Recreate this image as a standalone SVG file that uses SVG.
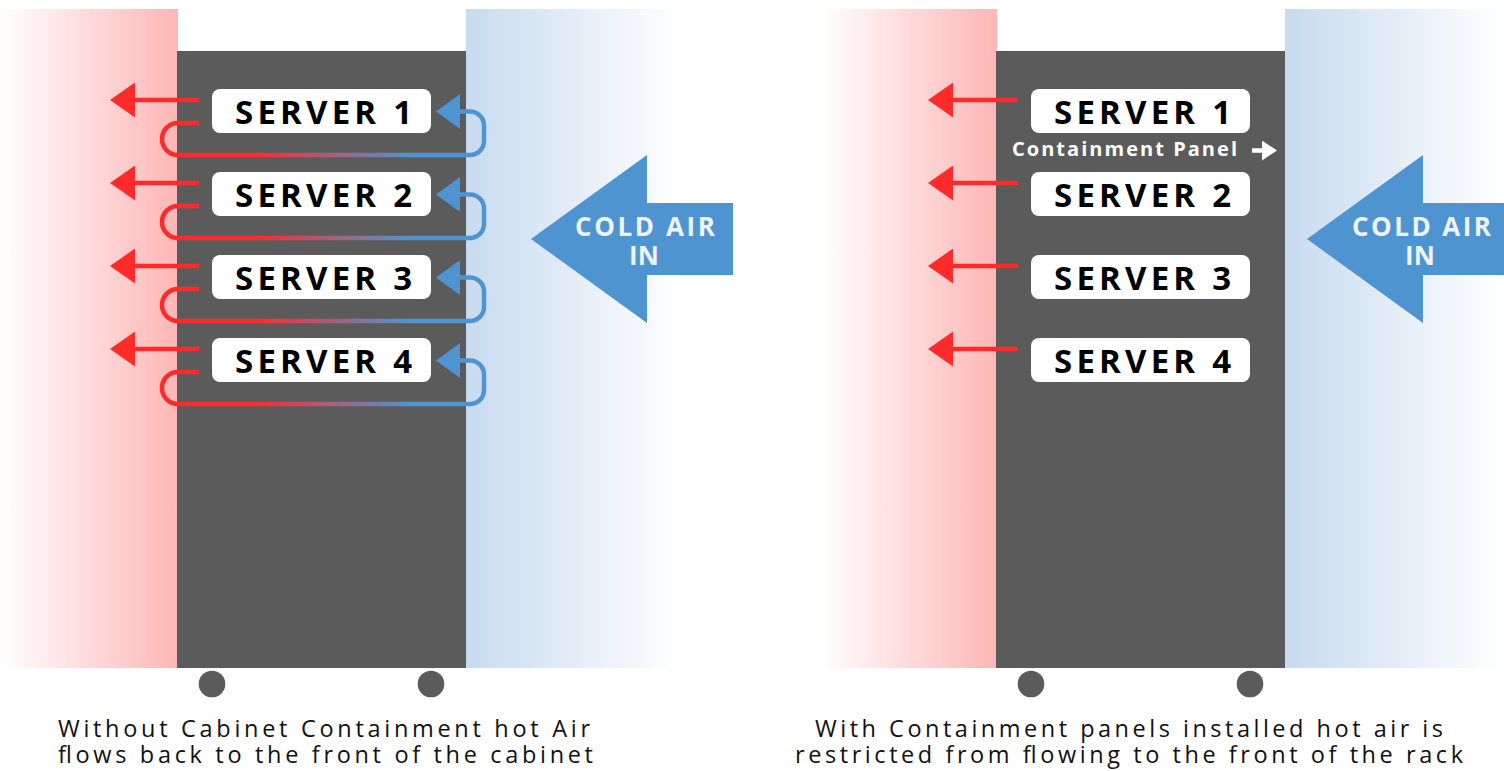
<svg xmlns="http://www.w3.org/2000/svg" width="1504" height="771" viewBox="0 0 1504 771">
<defs>
<linearGradient id="pinkL" x1="0" y1="0" x2="1" y2="0"><stop offset="0" stop-color="#ffffff"/><stop offset="1" stop-color="#ffb6b6"/></linearGradient>
<linearGradient id="blueR" x1="0" y1="0" x2="1" y2="0"><stop offset="0" stop-color="#c7dbef"/><stop offset="1" stop-color="#ffffff"/></linearGradient>
<linearGradient id="loopG" gradientUnits="userSpaceOnUse" x1="255" y1="0" x2="410" y2="0"><stop offset="0" stop-color="#ff2a2a"/><stop offset="1" stop-color="#4e94d0"/></linearGradient>
<marker id="redHead" markerUnits="userSpaceOnUse" viewBox="0 0 25 35" refX="0" refY="17.5" markerWidth="25" markerHeight="35" orient="auto"><polygon points="0,0 25,17.5 0,35" fill="#ff2a2a"/></marker>
<marker id="blueHead" markerUnits="userSpaceOnUse" viewBox="0 0 24 35" refX="0" refY="17.5" markerWidth="24" markerHeight="35" orient="auto"><polygon points="0,0 24,17.5 0,35" fill="#4e94d0"/></marker>
<marker id="whiteHead" markerUnits="userSpaceOnUse" viewBox="0 0 15 20" refX="0" refY="10" markerWidth="15" markerHeight="20" orient="auto"><polygon points="0,0 15,10 0,20" fill="#ffffff"/></marker>
</defs>
<style>
.rack{fill:#5b5b5b}
.box{fill:#ffffff}
.lbl{font-family:"Open Sans","Noto Sans","Liberation Sans",sans-serif;font-weight:700;font-size:33px;fill:#000000}
.cold{font-family:"Open Sans","Noto Sans","Liberation Sans",sans-serif;font-weight:700;font-size:26px;fill:#eef4fb}
.cap{font-family:"Open Sans","Noto Sans","Liberation Sans",sans-serif;font-size:23.5px;fill:#111111}
.panel{font-family:"Open Sans","Noto Sans","Liberation Sans",sans-serif;font-weight:700;font-size:20px;fill:#ffffff}
.red{fill:none;stroke:#ff2a2a;stroke-width:4.5;marker-end:url(#redHead)}
.loop{fill:none;stroke:url(#loopG);stroke-width:4.5;marker-end:url(#blueHead)}
.arrow{fill:#4e94d0}
.wheel{fill:#5b5b5b}
</style>

<g id="background">
<rect x="0" y="9" width="178" height="659" fill="url(#pinkL)"/>
<rect x="466" y="9" width="214" height="659" fill="url(#blueR)"/>
<rect x="820" y="9" width="177" height="659" fill="url(#pinkL)"/>
<rect x="1285" y="9" width="219" height="659" fill="url(#blueR)"/>
</g>

<g id="rack-left">
<rect class="rack" x="177" y="51" width="289" height="617"/>
<circle class="wheel" cx="212" cy="684" r="13.3"/>
<circle class="wheel" cx="431" cy="684" r="13.3"/>
</g>
<g id="rack-right">
<rect class="rack" x="996" y="51" width="289" height="617"/>
<circle class="wheel" cx="1031" cy="684" r="13.3"/>
<circle class="wheel" cx="1250" cy="684" r="13.3"/>
</g>

<g id="connectors">
<path class="red" d="M199,100 H135"/>
<path class="red" d="M199,183 H135"/>
<path class="red" d="M199,266 H135"/>
<path class="red" d="M199,349 H135"/>
<path class="loop" d="M199,123 H178 A16,16 0 0 0 178,155 H470 A14,14 0 0 0 484,141 V125.5 A14,14 0 0 0 470,111.5 H460"/>
<path class="loop" d="M199,206 H178 A16,16 0 0 0 178,238 H470 A14,14 0 0 0 484,224 V208.5 A14,14 0 0 0 470,194.5 H460"/>
<path class="loop" d="M199,289 H178 A16,16 0 0 0 178,321 H470 A14,14 0 0 0 484,307 V291.5 A14,14 0 0 0 470,277.5 H460"/>
<path class="loop" d="M199,372 H178 A16,16 0 0 0 178,404 H470 A14,14 0 0 0 484,390 V374.5 A14,14 0 0 0 470,360.5 H460"/>
<path class="red" d="M1018,100 H953"/>
<path class="red" d="M1018,183 H953"/>
<path class="red" d="M1018,266 H953"/>
<path class="red" d="M1018,349 H953"/>
<path d="M1252,150.5 H1262" fill="none" stroke="#ffffff" stroke-width="4.5" marker-end="url(#whiteHead)"/>
</g>

<g id="cold-air-left">
<polygon class="arrow" points="531,239 647,155 647,203 733,203 733,275 647,275 647,323"/>
<text class="cold" x="575" y="236" textLength="140" lengthAdjust="spacing">COLD AIR</text>
<text class="cold" x="629" y="265" textLength="30" lengthAdjust="spacing">IN</text>
</g>
<g id="cold-air-right">
<polygon class="arrow" points="1307,239 1423,155 1423,203 1504,203 1504,275 1423,275 1423,323"/>
<text class="cold" x="1352" y="236" textLength="139" lengthAdjust="spacing">COLD AIR</text>
<text class="cold" x="1405" y="265" textLength="30" lengthAdjust="spacing">IN</text>
</g>

<g id="server1-left"><rect class="box" x="212" y="89" width="219" height="44" rx="8"/><text class="lbl" x="235" y="124" textLength="177" lengthAdjust="spacing">SERVER 1</text></g>
<g id="server2-left"><rect class="box" x="212" y="172" width="219" height="44" rx="8"/><text class="lbl" x="235" y="207" textLength="177" lengthAdjust="spacing">SERVER 2</text></g>
<g id="server3-left"><rect class="box" x="212" y="255" width="219" height="44" rx="8"/><text class="lbl" x="235" y="290" textLength="177" lengthAdjust="spacing">SERVER 3</text></g>
<g id="server4-left"><rect class="box" x="212" y="338" width="219" height="44" rx="8"/><text class="lbl" x="235" y="373" textLength="177" lengthAdjust="spacing">SERVER 4</text></g>

<g id="server1-right"><rect class="box" x="1031" y="89" width="219" height="44" rx="8"/><text class="lbl" x="1054" y="124" textLength="177" lengthAdjust="spacing">SERVER 1</text></g>
<g id="server2-right"><rect class="box" x="1031" y="172" width="219" height="44" rx="8"/><text class="lbl" x="1054" y="207" textLength="177" lengthAdjust="spacing">SERVER 2</text></g>
<g id="server3-right"><rect class="box" x="1031" y="255" width="219" height="44" rx="8"/><text class="lbl" x="1054" y="290" textLength="177" lengthAdjust="spacing">SERVER 3</text></g>
<g id="server4-right"><rect class="box" x="1031" y="338" width="219" height="44" rx="8"/><text class="lbl" x="1054" y="373" textLength="177" lengthAdjust="spacing">SERVER 4</text></g>

<g id="containment-panel">
<text class="panel" x="1012" y="156" textLength="225" lengthAdjust="spacing">Containment Panel</text>
</g>

<g id="captions">
<text class="cap" x="58" y="737" textLength="532" lengthAdjust="spacing">Without Cabinet Containment hot Air</text>
<text class="cap" x="58" y="763" textLength="535" lengthAdjust="spacing">flows back to the front of the cabinet</text>
<text class="cap" x="815" y="737" textLength="628" lengthAdjust="spacing">With Containment panels installed hot air is</text>
<text class="cap" x="795" y="763" textLength="668" lengthAdjust="spacing">restricted from flowing to the front of the rack</text>
</g>
</svg>
